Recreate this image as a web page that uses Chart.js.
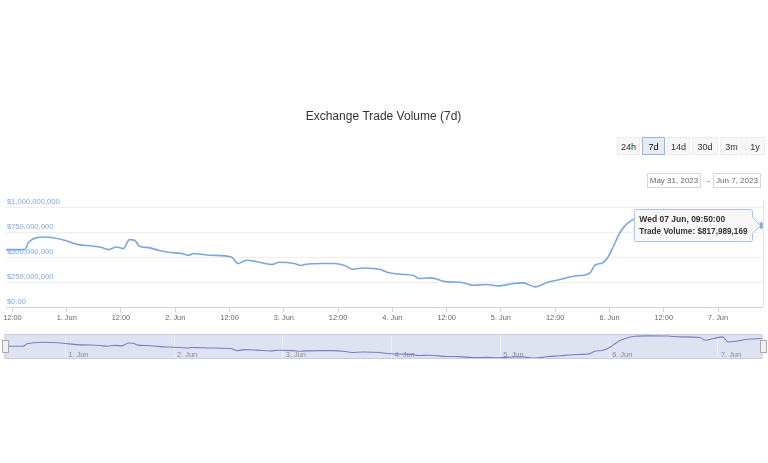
<!DOCTYPE html>
<html>
<head>
<meta charset="utf-8">
<script src="https://cdn.jsdelivr.net/npm/chart.js@4.4.0/dist/chart.umd.min.js"></script>
<style>
body{margin:0;width:768px;height:463px;background:#fff;position:relative;overflow:hidden;font-family:"Liberation Sans",Arial,sans-serif}
#main{position:absolute;left:0;top:0}
#nav{position:absolute;left:0;top:333px}
.btn{position:absolute;top:137px;height:18px;line-height:18px;width:23px;text-align:center;font-size:9px;color:#333;background:#f7f7f7;box-sizing:border-box;border:1px solid #ececec}
.btn.on{background:#e6ebf5;border:1px solid #9db4dc;color:#000}
.date{position:absolute;top:173px;height:15px;line-height:13px;font-size:8px;color:#666;border:1px solid #d6d6d6;box-sizing:border-box;text-align:center}
.arrow{position:absolute;top:173px;left:703px;font-size:8px;line-height:15px;color:#666}
</style>
</head>
<body>
<canvas id="main" width="768" height="330"></canvas>
<canvas id="nav" width="768" height="26"></canvas>

<div class="btn" style="left:617px">24h</div>
<div class="btn on" style="left:642px">7d</div>
<div class="btn" style="left:667px">14d</div>
<div class="btn" style="left:692px;width:26px">30d</div>
<div class="btn" style="left:720px">3m</div>
<div class="btn" style="left:745px;width:20px">1y</div>

<div class="date" style="left:647px;width:54px">May 31, 2023</div>
<div class="arrow">&rarr;</div>
<div class="date" style="left:713px;width:48px">Jun 7, 2023</div>

<script>
// hours counted from 31 May 2023 00:00
const hours = [10.6, 14.7, 15.6, 19.1, 21.3, 23.5, 26.6, 29.5, 31.7, 33.3, 35.0, 36.5,
  37.9, 39.0, 40.1, 42.1, 44.3, 46.5, 49.4, 50.9, 52.0, 53.8, 56.0, 60.4,
  61.9, 63.7, 66.3, 69.2, 71.0, 74.3, 75.8, 76.9, 80.2, 83.1, 85.3, 87.3,
  89.7, 93.4, 95.0, 97.8, 100.7, 101.8, 104.4, 108.2, 111.0, 113.9, 117.0, 119.4,
  122.7, 124.9, 127.6, 130.2, 133.1, 136.0, 138.2, 139.7, 140.8, 142.4, 143.5, 144.8,
  146.4, 147.9, 149.7, 152.4, 156.8, 159.7, 164.1, 165.2, 167.0, 169.0, 170.3, 172.3,
  174.5, 177.8333];

// trade volume, millions of USD
const volumes = [577, 577, 653, 703, 693, 670, 627, 613, 597, 577, 603, 587,
  677, 670, 610, 597, 570, 550, 537, 520, 537, 530, 520, 503,
  437, 470, 453, 427, 450, 437, 417, 430, 437, 437, 420, 380,
  393, 377, 347, 330, 317, 287, 293, 253, 250, 220, 227, 213,
  237, 243, 203, 247, 277, 310, 320, 343, 420, 443, 487, 603,
  753, 837, 887, 900, 895, 870, 850, 763, 818, 870, 707, 740,
  795, 817.989169];

const tickHours = [12, 24, 36, 48, 60, 72, 84, 96, 108, 120, 132, 144, 156, 168];
const tickLabels = ['12:00', '1. Jun', '12:00', '2. Jun', '12:00', '3. Jun', '12:00', '4. Jun',
  '12:00', '5. Jun', '12:00', '6. Jun', '12:00', '7. Jun'];
const navTickHours = [24, 48, 72, 96, 120, 144, 168];
const navTickLabels = ['1. Jun', '2. Jun', '3. Jun', '4. Jun', '5. Jun', '6. Jun', '7. Jun'];
const yTicks = [0, 250e6, 500e6, 750e6, 1000e6];

const FONT = '"Liberation Sans", Arial, sans-serif';
const points = hours.map((h, i) => ({ x: h, y: volumes[i] * 1e6 }));

const days = ['Sun', 'Mon', 'Tue', 'Wed', 'Thu', 'Fri', 'Sat'];
const months = ['Jan', 'Feb', 'Mar', 'Apr', 'May', 'Jun', 'Jul', 'Aug', 'Sep', 'Oct', 'Nov', 'Dec'];
const pad = n => String(n).padStart(2, '0');
const fmtTime = h => {
    const d = new Date(Date.UTC(2023, 4, 31) + Math.round(h * 3600) * 1000);
    return days[d.getUTCDay()] + ' ' + pad(d.getUTCDate()) + ' ' + months[d.getUTCMonth()] + ', ' +
        pad(d.getUTCHours()) + ':' + pad(d.getUTCMinutes()) + ':' + pad(d.getUTCSeconds());
};

const crosshair = {
    id: 'crosshair',
    beforeDatasetsDraw(chart) {
        const act = chart.getActiveElements();
        if (!act.length) return;
        const { ctx, chartArea } = chart;
        const x = Math.round(act[0].element.x) + 0.5;
        ctx.save();
        ctx.strokeStyle = '#dde3ee';
        ctx.lineWidth = 1;
        ctx.beginPath();
        ctx.moveTo(x, chartArea.top - 8);
        ctx.lineTo(x, chartArea.bottom);
        ctx.stroke();
        ctx.restore();
    }
};

const mainChart = new Chart(document.getElementById('main'), {
    type: 'line',
    data: {
        datasets: [{
            label: 'Trade Volume',
            data: points,
            borderColor: '#7ba7dc',
            borderWidth: 1.6,
            pointRadius: 0,
            pointHoverRadius: 3,
            pointHoverBackgroundColor: '#6d9ed8',
            pointHoverBorderColor: 'rgba(124,170,225,0.35)',
            pointHoverBorderWidth: 3,
            cubicInterpolationMode: 'monotone',
            fill: false
        }]
    },
    options: {
        responsive: false,
        animation: false,
        layout: { padding: { left: 4.5, right: 5.5, bottom: 7, top: 0 } },
        interaction: { mode: 'nearest', intersect: false, axis: 'x' },
        plugins: {
            legend: { display: false },
            title: {
                display: true,
                text: 'Exchange Trade Volume (7d)',
                color: '#333',
                font: { size: 12, weight: 'normal', family: FONT },
                padding: { top: 109, bottom: 84 }
            },
            tooltip: {
                backgroundColor: 'rgba(248,248,248,0.97)',
                borderColor: '#a9c3e6',
                borderWidth: 1,
                cornerRadius: 2,
                caretSize: 8,
                caretPadding: 2,
                padding: { left: 5, right: 5, top: 5, bottom: 5 },
                titleColor: '#333',
                bodyColor: '#333',
                titleFont: { size: 8.5, weight: 'bold', family: FONT },
                bodyFont: { size: 8.2, weight: 'bold', family: FONT },
                titleMarginBottom: 2,
                displayColors: false,
                xAlign: 'right',
                yAlign: 'center',
                callbacks: {
                    title: items => fmtTime(items[0].parsed.x),
                    label: item => 'Trade Volume: $' + Math.round(item.parsed.y).toLocaleString('en-US')
                }
            }
        },
        scales: {
            x: {
                type: 'linear',
                min: hours[0],
                max: hours[hours.length - 1],
                afterBuildTicks: axis => { axis.ticks = tickHours.map(v => ({ value: v })); },
                ticks: {
                    autoSkip: false,
                    maxRotation: 0,
                    padding: 1,
                    color: '#666',
                    font: { size: 7.4, family: FONT },
                    callback: (v, i) => tickLabels[i]
                },
                grid: { drawOnChartArea: false, tickLength: 5, color: '#ccd6eb' },
                border: { color: '#ccd6eb' }
            },
            y: {
                min: 0,
                max: 1e9,
                afterBuildTicks: axis => { axis.ticks = yTicks.map(v => ({ value: v })); },
                ticks: {
                    mirror: true,
                    padding: 0.8,
                    labelOffset: -5,
                    color: '#7fa9dc',
                    font: { size: 7.6, family: FONT },
                    callback: v => v === 0 ? '$0.00' : '$' + v.toLocaleString('en-US')
                },
                grid: { color: '#efefef', drawTicks: false },
                border: { display: false }
            }
        }
    },
    plugins: [crosshair]
});

const last = points.length - 1;
const lastPt = mainChart.getDatasetMeta(0).data[last];
mainChart.setActiveElements([{ datasetIndex: 0, index: last }]);
mainChart.tooltip.setActiveElements([{ datasetIndex: 0, index: last }], { x: lastPt.x, y: lastPt.y });
mainChart.update();

// navigator strip
const navDecor = {
    id: 'navDecor',
    beforeDraw(chart) {
        const { ctx, chartArea: a } = chart;
        ctx.save();
        ctx.fillStyle = '#dfe3f1';
        ctx.fillRect(a.left, a.top, a.right - a.left, a.bottom - a.top);
        ctx.restore();
    },
    afterDraw(chart) {
        const { ctx, chartArea: a } = chart;
        ctx.save();
        ctx.strokeStyle = '#c8cde0';
        ctx.lineWidth = 1;
        ctx.strokeRect(a.left + 0.5, a.top + 0.5, a.right - a.left - 1, a.bottom - a.top - 1);
        [a.left, a.right].forEach(x => {
            const cy = (a.top + a.bottom) / 2;
            ctx.fillStyle = '#f2f2f2';
            ctx.strokeStyle = '#aaa';
            ctx.fillRect(Math.round(x - 3) + 0.5, cy - 6, 6, 12);
            ctx.strokeRect(Math.round(x - 3) + 0.5, cy - 6, 6, 12);
        });
        ctx.restore();
    }
};

new Chart(document.getElementById('nav'), {
    type: 'line',
    data: {
        datasets: [{
            data: points,
            borderColor: '#7482c2',
            borderWidth: 1.1,
            pointRadius: 0,
            cubicInterpolationMode: 'monotone',
            fill: false
        }]
    },
    options: {
        responsive: false,
        animation: false,
        events: [],
        layout: { padding: { left: 4.5, right: 5.5, top: 1, bottom: 0 } },
        plugins: { legend: { display: false }, tooltip: { enabled: false } },
        scales: {
            x: {
                type: 'linear',
                min: hours[0],
                max: hours[hours.length - 1],
                afterBuildTicks: axis => { axis.ticks = navTickHours.map(v => ({ value: v })); },
                ticks: {
                    mirror: true,
                    align: 'start',
                    labelOffset: 3,
                    padding: 0,
                    autoSkip: false,
                    maxRotation: 0,
                    color: '#8a8a8a',
                    font: { size: 7.4, family: FONT },
                    callback: (v, i) => navTickLabels[i]
                },
                grid: { color: '#eef0f8', drawTicks: false },
                border: { display: false }
            },
            y: { display: false, min: 175e6, max: 960e6 }
        }
    },
    plugins: [navDecor]
});
</script>
</body>
</html>
